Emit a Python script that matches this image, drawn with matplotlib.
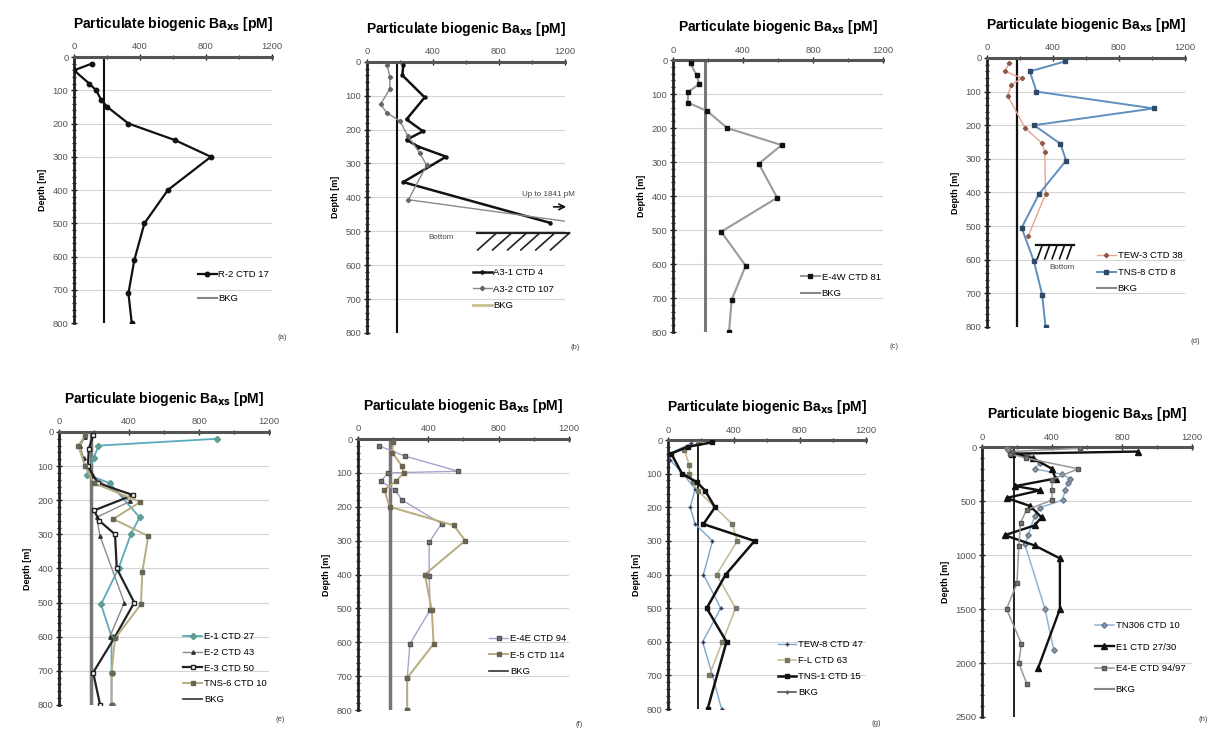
import matplotlib.pyplot as plt
from matplotlib.lines import Line2D
from matplotlib.ticker import MultipleLocator

plt.rcParams['font.family'] = ['Liberation Sans', 'DejaVu Sans']

BKG = 180

# (a) R-2
a_r2_depth = [20, 40, 80, 100, 128, 150, 200, 250, 300, 400, 500, 610, 710, 800]
a_r2_ba = [107, 0, 93, 134, 164, 202, 330, 613, 830, 569, 427, 366, 330, 350]

# (b) A3
b_a31_depth = [10, 40, 105, 170, 205, 230, 250, 280, 355, 475]
b_a31_ba = [220, 215, 350, 240, 340, 240, 310, 480, 220, 1110]
b_a32_depth = [10, 45, 80, 125, 150, 175, 220, 270, 305, 407, 513]
b_a32_ba = [123, 139, 139, 83, 119, 200, 250, 321, 362, 252, 1841]
b_bottom = 505

# (c) E-4W
c_e4w_depth = [10, 45, 70, 95, 125, 150, 200, 250, 305, 405, 505, 605, 705, 800]
c_e4w_ba = [100, 135, 150, 85, 85, 195, 310, 620, 490, 595, 275, 415, 335, 320]

# (d) TEW-3 / TNS-8
d_tew3_depth = [15, 40, 60, 80, 112, 209, 253, 280, 405, 530]
d_tew3_ba = [131, 111, 212, 147, 125, 232, 333, 350, 355, 250]
d_tns8_depth = [10, 40, 100, 150, 200, 255, 305, 405, 505, 605, 705, 800]
d_tns8_ba = [475, 260, 300, 1010, 285, 445, 480, 315, 210, 285, 335, 355]
d_bottom = 557

# (e) E-1, E-2, E-3, TNS-6
e_e1_depth = [20, 40, 75, 125, 150, 250, 300, 400, 505, 600, 705, 800]
e_e1_ba = [905, 225, 200, 160, 290, 460, 410, 340, 240, 300, 300, 300]
e_e2_depth = [15, 40, 75, 100, 130, 203, 250, 305, 500, 600]
e_e2_ba = [150, 120, 140, 150, 190, 408, 215, 234, 373, 290]
e_e3_depth = [10, 50, 100, 150, 185, 230, 260, 300, 400, 500, 600, 705, 800]
e_e3_ba = [195, 170, 165, 222, 423, 200, 230, 320, 330, 430, 320, 195, 235]
e_tns6_depth = [10, 40, 100, 150, 205, 255, 305, 410, 505, 605, 705, 800]
e_tns6_ba = [150, 110, 148, 200, 465, 310, 510, 476, 468, 320, 300, 300]

# (f) E-4E, E-5
f_e4e_depth = [20, 50, 95, 100, 125, 150, 180, 250, 305, 405, 505, 605, 705, 800]
f_e4e_ba = [120, 265, 570, 170, 130, 210, 250, 475, 405, 405, 410, 295, 280, 280]
f_e5_depth = [10, 40, 80, 100, 125, 150, 200, 255, 300, 400, 505, 605, 705, 800]
f_e5_ba = [200, 195, 250, 260, 215, 150, 180, 545, 610, 380, 420, 430, 280, 280]

# (g) TEW-8, F-L, TNS-1
g_tew8_depth = [10, 40, 60, 100, 145, 200, 250, 300, 400, 500, 600, 700, 800]
g_tew8_ba = [140, 10, 15, 90, 165, 135, 165, 270, 215, 320, 210, 270, 325]
g_fl_depth = [10, 30, 75, 100, 125, 150, 250, 300, 400, 500, 600, 700]
g_fl_ba = [180, 100, 130, 130, 150, 180, 390, 420, 295, 410, 330, 250]
g_tns1_depth = [7, 20, 40, 100, 125, 150, 200, 250, 300, 400, 500, 600, 800]
g_tns1_ba = [265, 120, 20, 85, 175, 225, 285, 215, 525, 350, 235, 355, 240]

# (h) TN306, E1, E4-E (deep profiles)
h_tn306_depth = [10, 30, 80, 150, 200, 250, 290, 330, 400, 490, 560, 640, 810, 900, 1500, 1880]
h_tn306_ba = [140, 150, 260, 330, 300, 455, 500, 490, 475, 460, 330, 300, 265, 245, 360, 410]
h_e1_depth = [40, 60, 100, 200, 290, 360, 400, 470, 545, 650, 725, 815, 910, 1030, 1500, 2050]
h_e1_ba = [890, 170, 290, 400, 420, 190, 330, 140, 275, 340, 300, 130, 300, 445, 445, 320]
h_e4e_depth = [10, 40, 60, 100, 200, 300, 400, 490, 580, 700, 920, 1260, 1500, 1820, 2000, 2190]
h_e4e_ba = [560, 170, 160, 250, 550, 400, 400, 400, 255, 220, 210, 200, 140, 225, 210, 255]

TITLE = r"Particulate biogenic Ba$_{\mathbf{xs}}$ [pM]"


def style_axes(ax, letter, ymax=800, ystep=100, yminor=20, letter_y=-0.055):
    ax.set_xlim(0, 1200)
    ax.set_ylim(ymax, 0)
    ax.xaxis.tick_top()
    ax.xaxis.set_major_locator(MultipleLocator(400))
    ax.xaxis.set_minor_locator(MultipleLocator(200))
    ax.yaxis.set_major_locator(MultipleLocator(ystep))
    ax.yaxis.set_minor_locator(MultipleLocator(yminor))
    ax.tick_params(which="both", direction="inout", colors="#222222", labelsize=6.8,
                   labelcolor="#555555", pad=2)
    ax.tick_params(which="major", length=4, width=1)
    ax.tick_params(which="minor", length=3, width=0.9)
    ax.spines["right"].set_visible(False)
    ax.spines["bottom"].set_visible(False)
    ax.spines["top"].set_linewidth(2.2)
    ax.spines["top"].set_color("#555555")
    ax.spines["left"].set_linewidth(2.0)
    ax.spines["left"].set_color("#222222")
    ax.yaxis.grid(True, color="#d4d4d4", linewidth=0.8)
    ax.set_axisbelow(True)
    ax.set_ylabel("Depth [m]", fontsize=6.5, fontweight="bold", labelpad=4)
    ax.set_title(TITLE, fontsize=10, fontweight="bold", pad=21)
    ax.text(1.03, letter_y, letter, transform=ax.transAxes, fontsize=5.5,
            color="#444444", ha="left", va="center")


def bkg_line(ax, color="black", lw=1.5, ymax=800):
    ax.plot([BKG, BKG], [0, ymax], color=color, lw=lw, zorder=2)


def add_legend(ax, handles, labels, bbox=(1.02, 0.0), spacing=0.9):
    ax.legend(handles, labels, loc="lower right", bbox_to_anchor=bbox, frameon=False,
              fontsize=6.8, handlelength=2.0, labelspacing=spacing, handletextpad=0.2,
              borderaxespad=0.3)


fig = plt.figure(figsize=(12.07, 7.31), dpi=100)
pos = {
    "a": [0.0613, 0.558, 0.164, 0.364],
    "b": [0.304, 0.5445, 0.164, 0.371],
    "c": [0.5576, 0.5458, 0.174, 0.372],
    "d": [0.8177, 0.5527, 0.164, 0.368],
    "e": [0.0489, 0.0356, 0.174, 0.3735],
    "f": [0.2966, 0.0287, 0.1748, 0.3707],
    "g": [0.5534, 0.030, 0.164, 0.368],
    "h": [0.8136, 0.0192, 0.174, 0.369],
}
axs = {k: fig.add_axes(v) for k, v in pos.items()}

# ---- (a)
ax = axs["a"]
style_axes(ax, "(a)")
l1, = ax.plot(a_r2_ba, a_r2_depth, color="#111111", lw=1.6, marker="o", ms=3.2, zorder=3)
bkg_line(ax, "#111111", 1.5)
add_legend(ax, [l1, Line2D([], [], color="#888888", lw=1.5)], ["R-2 CTD 17", "BKG"],
           bbox=(1.02, 0.05), spacing=1.6)

# ---- (b)
ax = axs["b"]
style_axes(ax, "(b)")
l1, = ax.plot(b_a31_ba, b_a31_depth, color="#111111", lw=1.8, marker="o", ms=2.2, zorder=3)
l2, = ax.plot(b_a32_ba, b_a32_depth, color="#8a8a8a", lw=1.0, marker="D", ms=2.2,
              mfc="#666666", mec="#666666", zorder=3)
bkg_line(ax, "#111111", 1.5)
ax.text(1100, 393, "Up to 1841 pM", fontsize=5.8, color="#444444", ha="center", va="center")
ax.annotate("", xy=(1225, 428), xytext=(1115, 428), annotation_clip=False,
            arrowprops=dict(arrowstyle="->", color="#111111", lw=1.2))
ax.plot([665, 1226], [b_bottom, b_bottom], color="#222222", lw=1.6, clip_on=False, zorder=4)
for xs in [786, 877, 968, 1048, 1139, 1228]:
    ax.plot([xs, xs - 115], [b_bottom, b_bottom + 50], color="#222222", lw=1.2,
            clip_on=False, zorder=4)
ax.text(450, b_bottom + 12, "Bottom", fontsize=5.8, color="#444444", ha="center", va="center")
add_legend(ax, [l1, l2, Line2D([], [], color="#c8c090", lw=2)],
           ["A3-1 CTD 4", "A3-2 CTD 107", "BKG"], bbox=(0.98, 0.06), spacing=0.8)

# ---- (c)
ax = axs["c"]
style_axes(ax, "(c)")
l1, = ax.plot(c_e4w_ba, c_e4w_depth, color="#9a9a9a", lw=1.5, marker="s", ms=3.2,
              mfc="#111111", mec="#111111", zorder=3)
bkg_line(ax, "#777777", 2.2)
add_legend(ax, [l1, Line2D([], [], color="#888888", lw=1.5)], ["E-4W CTD 81", "BKG"],
           bbox=(1.02, 0.1), spacing=0.8)

# ---- (d)
ax = axs["d"]
style_axes(ax, "(d)")
l1, = ax.plot(d_tew3_ba, d_tew3_depth, color="#e8a595", lw=1.0, marker="D", ms=2.2,
              mfc="#8b5a4a", mec="#8b5a4a", zorder=3)
l2, = ax.plot(d_tns8_ba, d_tns8_depth, color="#5f8fbf", lw=1.4, marker="s", ms=3,
              mfc="#2f4a66", mec="#2f4a66", zorder=3)
bkg_line(ax, "#111111", 1.6)
ax.plot([300, 525], [d_bottom, d_bottom], color="#111111", lw=1.6, zorder=4)
for xs in [335, 380, 425, 470, 515]:
    ax.plot([xs, xs - 30], [d_bottom, d_bottom + 40], color="#111111", lw=1.2, zorder=4)
ax.text(455, d_bottom + 65, "Bottom", fontsize=5.8, color="#444444", ha="center", va="center")
add_legend(ax, [l1, l2, Line2D([], [], color="#888888", lw=1.5)],
           ["TEW-3 CTD 38", "TNS-8 CTD 8", "BKG"], bbox=(1.02, 0.1), spacing=0.8)

# ---- (e)
ax = axs["e"]
style_axes(ax, "(e)")
l1, = ax.plot(e_e1_ba, e_e1_depth, color="#5aaac0", lw=1.3, marker="D", ms=3.2,
              mfc="#5f9e90", mec="#5f9e90", zorder=3)
l2, = ax.plot(e_e2_ba, e_e2_depth, color="#8a8a8a", lw=1.0, marker="^", ms=2.5,
              mfc="#333333", mec="#333333", zorder=3)
l3, = ax.plot(e_e3_ba, e_e3_depth, color="#222222", lw=1.6, marker="s", ms=2.8,
              mfc="white", mec="#222222", zorder=3)
l4, = ax.plot(e_tns6_ba, e_tns6_depth, color="#b8ad82", lw=1.4, marker="s", ms=2.8,
              mfc="#666655", mec="#666655", zorder=3)
bkg_line(ax, "#777777", 2.5)
add_legend(ax, [l1, l2, l3, l4, Line2D([], [], color="#333333", lw=1.2)],
           ["E-1 CTD 27", "E-2 CTD 43", "E-3 CTD 50", "TNS-6 CTD 10", "BKG"],
           bbox=(1.02, -0.02), spacing=0.7)

# ---- (f)
ax = axs["f"]
style_axes(ax, "(f)")
l1, = ax.plot(f_e4e_ba, f_e4e_depth, color="#aaa2cc", lw=1.0, marker="s", ms=2.6,
              mfc="#777777", mec="#555555", zorder=3)
l2, = ax.plot(f_e5_ba, f_e5_depth, color="#b8ab7e", lw=1.4, marker="s", ms=2.8,
              mfc="#6a6450", mec="#6a6450", zorder=3)
bkg_line(ax, "#777777", 2.5)
add_legend(ax, [l1, l2, Line2D([], [], color="#333333", lw=1.2)],
           ["E-4E CTD 94", "E-5 CTD 114", "BKG"], bbox=(1.02, 0.1), spacing=0.8)

# ---- (g)
ax = axs["g"]
style_axes(ax, "(g)")
l1, = ax.plot(g_tew8_ba, g_tew8_depth, color="#7aa6cc", lw=1.0, marker="+", ms=3.5,
              mec="#333355", zorder=3)
l2, = ax.plot(g_fl_ba, g_fl_depth, color="#c4b88e", lw=1.1, marker="s", ms=2.8,
              mfc="#777766", mec="#777766", zorder=3)
l3, = ax.plot(g_tns1_ba, g_tns1_depth, color="#111111", lw=1.8, marker="s", ms=3,
              mfc="#111111", mec="#111111", zorder=3)
bkg_line(ax, "#111111", 1.3)
add_legend(ax, [l1, l2, l3, Line2D([], [], color="#555555", lw=1.2, marker="+", ms=3)],
           ["TEW-8 CTD 47", "F-L CTD 63", "TNS-1 CTD 15", "BKG"],
           bbox=(1.02, 0.02), spacing=0.75)

# ---- (h)
ax = axs["h"]
style_axes(ax, "(h)", ymax=2500, ystep=500, yminor=100, letter_y=-0.01)
l1, = ax.plot(h_tn306_ba, h_tn306_depth, color="#8fb4d8", lw=1.1, marker="D", ms=2.8,
              mfc="#8a9aa8", mec="#6a7a88", zorder=3)
l2, = ax.plot(h_e1_ba, h_e1_depth, color="#111111", lw=1.7, marker="^", ms=4,
              mfc="#111111", mec="#111111", zorder=3)
l3, = ax.plot(h_e4e_ba, h_e4e_depth, color="#999999", lw=1.1, marker="s", ms=2.8,
              mfc="#777777", mec="#555555", zorder=3)
bkg_line(ax, "#111111", 1.3, ymax=2500)
add_legend(ax, [l1, l2, l3, Line2D([], [], color="#888888", lw=1.5)],
           ["TN306 CTD 10", "E1 CTD 27/30", "E4-E CTD 94/97", "BKG"],
           bbox=(1.0, 0.06), spacing=1.3)

fig.savefig("out.png", dpi=100)
